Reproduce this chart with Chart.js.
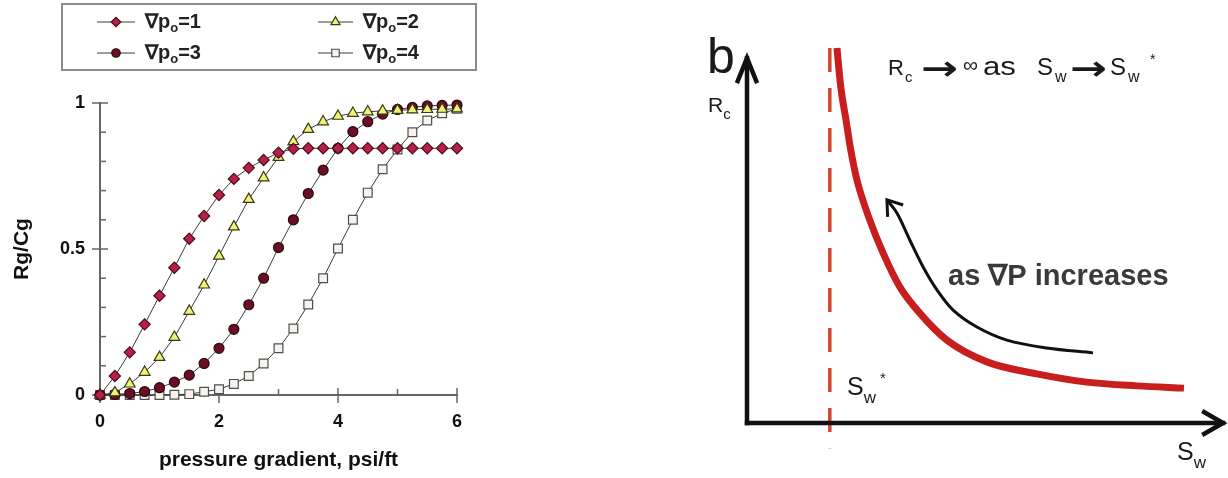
<!DOCTYPE html>
<html><head><meta charset="utf-8">
<script src="https://cdn.jsdelivr.net/npm/chart.js@4.4.1/dist/chart.umd.min.js"></script>
<style>
html,body{margin:0;padding:0;background:#fff;width:1228px;height:478px;overflow:hidden}
#left{position:absolute;left:0;top:0}
#right{position:absolute;left:690px;top:0}
</style></head><body>
<canvas id="left" width="490" height="478"></canvas>
<canvas id="right" width="538" height="478"></canvas>
<script>
// ---------- Left panel data ----------
const xValues = [0,0.25,0.5,0.75,1,1.25,1.5,1.75,2,2.25,2.5,2.75,3,3.25,3.5,3.75,4,4.25,4.5,4.75,5,5.25,5.5,5.75,6];
const seriesP1 = [0,0.065,0.146,0.242,0.34,0.436,0.535,0.613,0.685,0.74,0.778,0.805,0.83,0.843,0.845,0.845,0.845,0.845,0.845,0.845,0.845,0.845,0.845,0.845,0.845];
const seriesP2 = [0,0.008,0.038,0.078,0.129,0.198,0.287,0.377,0.476,0.576,0.67,0.744,0.814,0.868,0.91,0.936,0.955,0.965,0.97,0.973,0.975,0.977,0.978,0.979,0.98];
const seriesP3 = [0,0.002,0.005,0.012,0.025,0.044,0.068,0.108,0.16,0.225,0.309,0.4,0.505,0.6,0.69,0.77,0.845,0.902,0.936,0.962,0.978,0.985,0.99,0.992,0.993];
const seriesP4 = [0,0,0,0,0,0.001,0.003,0.011,0.02,0.038,0.065,0.108,0.16,0.228,0.31,0.4,0.502,0.6,0.693,0.773,0.841,0.9,0.94,0.965,0.98];
const seriesLevels = ['1','2','3','4'];
const yMajorTicks = [0,0.5,1];
const yTickLabels = ['0','0.5','1'];
const xMajorTicks = [0,2,4,6];
const xTickLabels = ['0','2','4','6'];
const xTitle = 'pressure gradient, psi/ft';
const yTitle = 'Rg/Cg';

// ---------- Right panel data (schematic, 0-100 units) ----------
const curveSw = [18.9,19.7,20.8,21.8,23.1,25.8,28.6,32.1,36.3,42.0,50.4,60.9,71.4,81.9,91.8];
const curveRc = [100,89.6,80.8,72.8,64.8,54.1,45.3,36.3,29.3,22.1,16.3,13.1,10.9,9.9,9.3];
const arrowSw = [72.7,63.0,54.6,48.3,43.3,39.9,37.0,34.2,31.5,29.4];
const arrowRc = [18.7,20.0,22.1,25.6,30.1,35.5,41.6,48.8,56.0,59.5];
const swStarX = [17.4,17.4];
const swStarY = [100,-6.7];
const axisYX = [0,0]; const axisYY = [0,97.3];
const axisXX = [0,100]; const axisXY = [0,0];

const FONT = "'Liberation Sans', Arial, Helvetica, sans-serif";
const ARROWFONT = "'DejaVu Sans', sans-serif";
Chart.defaults.font.family = FONT;

function rich(ctx, x, y, segs, color) {
  ctx.save();
  ctx.fillStyle = color; ctx.textBaseline = 'alphabetic'; ctx.textAlign = 'left';
  for (const s of segs) {
    ctx.font = (s.bold ? 'bold ' : '') + s.size + 'px ' + (s.family || FONT);
    const w = ctx.measureText(s.t).width;
    const sx = s.sx || 1;
    if (s.x !== undefined) x = s.x;
    x += s.pre || 0;
    ctx.save(); ctx.translate(x, y + (s.dy || 0)); ctx.scale(sx, 1); ctx.fillText(s.t, 0, 0); ctx.restore();
    x += w * sx + (s.post || 0);
  }
  ctx.restore();
}

const styles = [
  {pointStyle:'rectRot', radius:5.6, bg:'#b82048', bd:'#4a0c1c'},
  {pointStyle:'triangle', radius:6.2, bg:'#eef27a', bd:'#3a3a10'},
  {pointStyle:'circle', radius:5, bg:'#6a0e24', bd:'#2a0810'},
  {pointStyle:'rect', radius:6.2, bg:'#f6f2ec', bd:'#505050'}
];
const allSeries = [seriesP1, seriesP2, seriesP3, seriesP4];

const leftDatasets = allSeries.map((s, i) => ({
  label: '\u2207p\u2092=' + seriesLevels[i],
  data: xValues.map((x, j) => ({x: x, y: s[j]})),
  borderColor: '#3a3a3a', borderWidth: 1, tension: 0,
  pointStyle: styles[i].pointStyle, pointRadius: styles[i].radius,
  pointBackgroundColor: styles[i].bg, pointBorderColor: styles[i].bd, pointBorderWidth: 1.2,
  clip: false
}));

const boxLegend = {
  id: 'boxLegend',
  afterDraw(chart) {
    const ctx = chart.ctx;
    ctx.save();
    ctx.strokeStyle = '#8c8c8c'; ctx.lineWidth = 2;
    ctx.strokeRect(62, 4, 414, 66);
    const slots = [[97,135,145,22],[318,353,363,22],[97,135,145,53],[318,353,363,53]];
    slots.forEach((p, i) => {
      ctx.strokeStyle = '#3a3a3a'; ctx.lineWidth = 1;
      ctx.beginPath(); ctx.moveTo(p[0], p[3]); ctx.lineTo(p[1], p[3]); ctx.stroke();
      ctx.fillStyle = styles[i].bg; ctx.strokeStyle = styles[i].bd; ctx.lineWidth = 1.2;
      Chart.helpers.drawPoint(ctx, {pointStyle: styles[i].pointStyle, radius: styles[i].radius * 0.85, rotation: 0, borderWidth: 1.2}, (p[0]+p[1])/2, p[3]);
      rich(ctx, p[2], p[3] + 6, [
        {t:'\u2207p', size:20, bold:true},
        {t:'o', size:13, bold:true, dy:4},
        {t:'=' + seriesLevels[i], size:20, bold:true}
      ], '#222');
    });
    ctx.restore();
  }
};

const inTicks = {
  id: 'inTicks',
  beforeDatasetsDraw(chart) {
    const {ctx, scales: {x, y}} = chart;
    ctx.save(); ctx.strokeStyle = '#666'; ctx.lineWidth = 1.5;
    y.ticks.forEach(t => {
      const py = y.getPixelForValue(t.value);
      const major = yMajorTicks.some(m => Math.abs(m - t.value) < 1e-6);
      ctx.beginPath(); ctx.moveTo(major ? x.left - 8 : x.left, py); ctx.lineTo(x.left + (major ? 8 : 6), py); ctx.stroke();
    });
    x.ticks.forEach(t => {
      const px = x.getPixelForValue(t.value);
      const major = xMajorTicks.some(m => Math.abs(m - t.value) < 1e-6);
      ctx.beginPath(); ctx.moveTo(px, y.bottom + (major ? 8 : 0)); ctx.lineTo(px, y.bottom - (major ? 7 : 6)); ctx.stroke();
    });
    ctx.restore();
  }
};

function labelFor(v, majors, labels) {
  const k = majors.findIndex(m => Math.abs(m - v) < 1e-6);
  return k >= 0 ? labels[k] : '';
}

new Chart(document.getElementById('left'), {
  type: 'line',
  data: { datasets: leftDatasets },
  options: {
    responsive: false, animation: false,
    layout: { padding: { top: 103, right: 33, left: 0, bottom: 0 } },
    plugins: { legend: { display: false }, tooltip: { enabled: false } },
    scales: {
      x: {
        type: 'linear', min: 0, max: 6,
        afterFit(s) { s.height = 83; },
        grid: { display: false, drawTicks: false },
        border: { display: true, color: '#666', width: 2 },
        ticks: { stepSize: 1, autoSkip: false, maxRotation: 0, padding: 16, color: '#111',
                 font: { size: 18, weight: 'bold' },
                 callback: v => labelFor(v, xMajorTicks, xTickLabels) },
        title: { display: true, text: xTitle, color: '#111', font: { size: 21, weight: 'bold' }, padding: { top: 0, bottom: 5 } }
      },
      y: {
        type: 'linear', min: 0, max: 1,
        afterFit(s) { s.width = 100; },
        grid: { display: false, drawTicks: false },
        border: { display: true, color: '#666', width: 2 },
        ticks: { stepSize: 0.1, autoSkip: false, padding: 15, color: '#111',
                 font: { size: 18, weight: 'bold' },
                 callback: v => labelFor(v, yMajorTicks, yTickLabels) },
        title: { display: true, text: yTitle, color: '#111', font: { size: 21, weight: 'bold' }, padding: { top: 10, bottom: 0 } }
      }
    }
  },
  plugins: [inTicks, boxLegend]
});

// ---------- Right panel ----------
const pts = (xs, ys) => xs.map((x, i) => ({x: x, y: ys[i]}));

const diagram = {
  id: 'diagram',
  afterDatasetsDraw(chart) {
    const ctx = chart.ctx;
    chart.data.datasets.forEach((ds, i) => {
      if (!ds.arrowHead) return;
      const el = chart.getDatasetMeta(i).data;
      const a = el[el.length - 2], b = el[el.length - 1];
      const ang = Math.atan2(b.y - a.y, b.x - a.x);
      const L = ds.arrowHead.len, th = ds.arrowHead.angle * Math.PI / 180;
      ctx.save();
      ctx.strokeStyle = ds.borderColor; ctx.lineWidth = ds.arrowHead.width; ctx.lineJoin = 'miter'; ctx.lineCap = 'butt';
      ctx.beginPath();
      ctx.moveTo(b.x - L * Math.cos(ang - th), b.y - L * Math.sin(ang - th));
      ctx.lineTo(b.x, b.y);
      ctx.lineTo(b.x - L * Math.cos(ang + th), b.y - L * Math.sin(ang + th));
      ctx.stroke();
      ctx.restore();
    });
    rich(ctx, 17, 73, [{t:'b', size:50}], '#1a1a1a');
    rich(ctx, 18, 112, [{t:'R', size:21}, {t:'c', size:15, dy:7}], '#1a1a1a');
    rich(ctx, 0, 75, [
      {t:'R', size:22, x:198}, {t:'c', size:15, dy:7, x:215},
      {t:'\u2192', size:34, bold:true, sx:1.3, family:ARROWFONT, dy:5, x:231},
      {t:'\u221E', size:21, dy:-3, x:273},
      {t:'as', size:26, sx:1.2, x:293},
      {t:'S', size:24, x:347}, {t:'w', size:16, dy:7, x:365},
      {t:'\u2192', size:34, bold:true, sx:1.3, family:ARROWFONT, dy:5, x:380},
      {t:'S', size:24, x:420}, {t:'w', size:16, dy:7, x:438}, {t:'*', size:14, dy:-11, x:460}
    ], '#1a1a1a');
    rich(ctx, 258, 285, [{t:'as \u2207P increases', size:29, bold:true}], '#3a3a3a');
    rich(ctx, 157, 395, [{t:'S', size:25}, {t:'w', size:17, dy:8}, {t:'*', size:15, dy:-12, pre:4}], '#1a1a1a');
    rich(ctx, 487, 460, [{t:'S', size:25}, {t:'w', size:17, dy:8}], '#1a1a1a');
  }
};

new Chart(document.getElementById('right'), {
  type: 'scatter',
  data: {
    datasets: [
      { data: pts(axisYX, axisYY), showLine: true, borderColor: '#111', borderWidth: 4.5, pointRadius: 0, borderCapStyle: 'square', clip: false,
        arrowHead: {len: 27, angle: 22, width: 4.5} },
      { data: pts(axisXX, axisXY), showLine: true, borderColor: '#111', borderWidth: 4.5, pointRadius: 0, borderCapStyle: 'square', clip: false,
        arrowHead: {len: 24, angle: 30, width: 4.5} },
      { data: pts(arrowSw, arrowRc), showLine: true, borderColor: '#111', borderWidth: 3, pointRadius: 0, tension: 0.35, clip: false,
        arrowHead: {len: 17, angle: 35, width: 3} },
      { data: pts(curveSw, curveRc), showLine: true, borderColor: '#c81e1e', borderWidth: 7, pointRadius: 0, cubicInterpolationMode: 'monotone', borderCapStyle: 'butt', clip: false },
      { data: pts(swStarX, swStarY), showLine: true, borderColor: '#d4462c', borderWidth: 3.5, borderDash: [24, 16], pointRadius: 0, clip: false }
    ]
  },
  options: {
    responsive: false, animation: false,
    layout: { padding: { left: 57, right: 5, top: 48, bottom: 55 } },
    plugins: { legend: { display: false }, tooltip: { enabled: false } },
    scales: {
      x: { type: 'linear', min: 0, max: 100, display: false },
      y: { type: 'linear', min: 0, max: 100, display: false }
    }
  },
  plugins: [diagram]
});
</script>
</body></html>
